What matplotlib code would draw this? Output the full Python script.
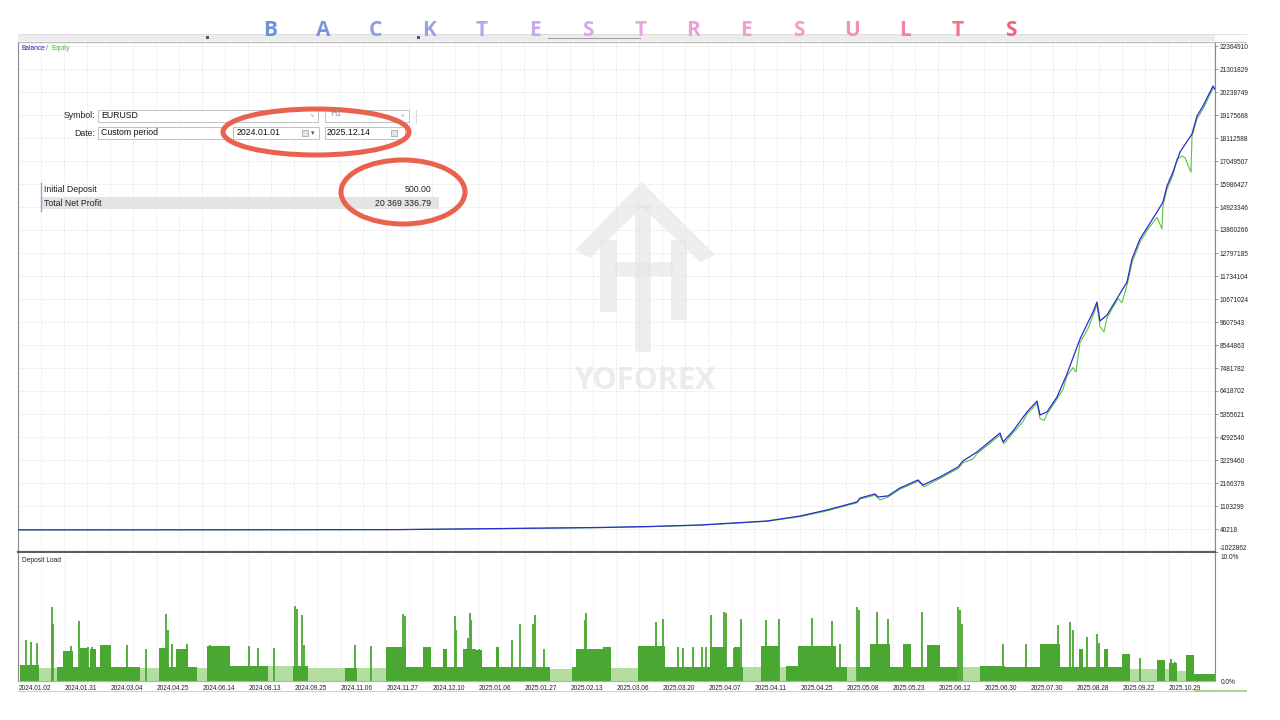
import matplotlib
matplotlib.use("Agg")
import matplotlib.pyplot as plt
from matplotlib.patches import Rectangle, Ellipse, Polygon
import numpy as np

# ---------------- data ----------------
# x axis = trade index (MT5 tester style, non-uniform dates)
bal_x = [0, 180, 380, 482, 582, 632, 682, 749, 782, 809, 839, 842, 857, 860, 870, 882, 900, 905,
         922, 940, 945, 959, 982, 985, 995, 1009, 1019, 1022, 1029, 1039, 1049, 1062, 1075, 1079,
         1082, 1089, 1109, 1114, 1122, 1139, 1145, 1149, 1155, 1162, 1174, 1179, 1185, 1195, 1197]
bal_y = [500, 3000, 12000, 60000, 110000, 155000, 225000, 410000, 640000, 920000, 1290000, 1470000,
         1660000, 1520000, 1570000, 1935000, 2305000, 2075000, 2440000, 2905000, 3185000, 3600000,
         4475000, 4060000, 4570000, 5450000, 5955000, 5310000, 5450000, 6140000, 7205000, 8820000,
         10070000, 10530000, 9655000, 9930000, 11455000, 12520000, 13445000, 14690000, 15155000,
         15895000, 16540000, 17465000, 18300000, 19130000, 19590000, 20515000, 20369837]

eq_x = [0, 180, 380, 482, 582, 632, 682, 749, 782, 809, 839, 842, 857, 862, 870, 882, 900, 906,
        922, 940, 945, 955, 959, 982, 986, 995, 1005, 1009, 1019, 1022, 1026, 1029, 1039, 1045,
        1049, 1055, 1058, 1062, 1070, 1075, 1079, 1082, 1086, 1089, 1100, 1104, 1109, 1114, 1122,
        1130, 1139, 1144, 1145, 1149, 1155, 1159, 1164, 1167, 1173, 1174, 1179, 1185, 1195, 1197]
eq_y = [500, 3000, 12000, 58000, 105000, 150000, 215000, 395000, 610000, 880000, 1250000, 1430000,
        1600000, 1380000, 1520000, 1880000, 2250000, 1990000, 2380000, 2830000, 3100000, 3280000,
        3520000, 4380000, 3980000, 4480000, 5000000, 5350000, 5850000, 5150000, 5050000, 5350000,
        6050000, 6500000, 7100000, 7500000, 7300000, 8650000, 9300000, 9900000, 10400000, 9400000,
        9150000, 9800000, 10700000, 10500000, 11300000, 12350000, 13300000, 13900000, 14450000,
        13907000, 15000000, 15750000, 16400000, 17142000, 17280000, 17200000, 16540000, 18200000,
        19000000, 19450000, 20400000, 20369837]

y_tick_values = [-1022862, 40218, 1103299, 2166379, 3229460, 4292540, 5355621, 6418702, 7481782,
                 8544863, 9607943, 10671024, 11734104, 12797185, 13860266, 14923346, 15986427,
                 17049507, 18112588, 19175668, 20238749, 21301829, 22364910]

date_labels = ["2024.01.02", "2024.01.31", "2024.03.04", "2024.04.25", "2024.06.14", "2024.08.13",
               "2024.09.25", "2024.11.06", "2024.11.27", "2024.12.10", "2025.01.06", "2025.01.27",
               "2025.02.13", "2025.03.06", "2025.03.20", "2025.04.07", "2025.04.11", "2025.04.25",
               "2025.05.08", "2025.05.23", "2025.06.12", "2025.06.30", "2025.07.30", "2025.08.28",
               "2025.09.22", "2025.10.29"]

# deposit load (%) : plateaus
load_seg_start = [2, 21, 39, 45, 55, 62, 70, 72, 78, 82, 93, 122, 141, 150, 158, 170, 179, 189, 212,
                  226, 250, 275, 290, 327, 339, 368, 388, 405, 413, 425, 429, 445, 458, 464, 478, 481,
                  532, 554, 558, 585, 593, 620, 647, 692, 708, 716, 722, 725, 743, 761, 768, 780, 818,
                  829, 839, 852, 872, 885, 893, 909, 922, 940, 962, 987, 1022, 1042, 1061, 1065, 1086,
                  1090, 1104, 1112, 1139, 1147, 1151, 1159, 1168, 1176]
load_seg_end = [21, 39, 45, 55, 62, 70, 72, 78, 82, 93, 122, 141, 150, 158, 170, 179, 189, 212, 226,
                250, 275, 290, 327, 339, 368, 388, 405, 413, 425, 429, 445, 458, 464, 478, 481, 532,
                554, 558, 585, 593, 620, 647, 692, 708, 716, 722, 725, 743, 761, 768, 780, 818, 829,
                839, 852, 872, 885, 893, 909, 922, 940, 962, 987, 1022, 1042, 1061, 1065, 1086, 1090,
                1104, 1112, 1139, 1147, 1151, 1159, 1168, 1176, 1198]
load_seg_level = [1.25, 1.0, 1.1, 2.4, 1.1, 2.6, 1.1, 2.5, 1.1, 2.85, 1.1, 1.05, 2.6, 1.1, 2.5, 1.1,
                  1.05, 2.75, 1.15, 1.15, 1.15, 1.15, 1.0, 1.05, 1.05, 2.65, 1.1, 2.65, 1.1, 2.55, 1.1,
                  2.55, 2.45, 1.1, 2.65, 1.1, 0.97, 1.1, 2.55, 2.65, 1.0, 2.75, 1.07, 2.65, 1.07, 2.65,
                  1.07, 1.07, 2.8, 1.07, 1.15, 2.8, 1.07, 1.07, 1.07, 2.95, 1.07, 2.95, 1.07, 2.85,
                  1.07, 1.07, 1.2, 1.07, 2.95, 1.07, 2.55, 1.07, 2.5, 1.07, 2.13, 0.93, 1.65, 0.93,
                  1.45, 0.8, 2.05, 0.59]
load_seg_light = [0, 1, 0, 0, 0, 0, 0, 0, 0, 0, 0, 1, 0, 0, 0, 0, 1, 0, 0, 0, 1, 0, 1, 0, 1, 0, 0, 0,
                  0, 0, 0, 0, 0, 0, 0, 0, 1, 0, 0, 0, 1, 0, 0, 0, 0, 0, 0, 1, 0, 1, 0, 0, 0, 1, 0, 0,
                  0, 0, 0, 0, 0, 1, 0, 0, 0, 0, 0, 0, 0, 0, 0, 1, 0, 1, 0, 1, 0, 0]

# deposit load (%) : spikes
load_spike_x = [8, 13, 19, 34, 35, 53, 61, 70, 74, 109, 128, 148, 150, 154, 169, 192, 206, 231, 240,
                256, 277, 279, 284, 286, 337, 353, 385, 387, 406, 427, 437, 438, 450, 452, 453, 461,
                479, 494, 502, 515, 517, 526, 567, 568, 590, 638, 645, 660, 665, 675, 684, 688, 693,
                706, 708, 716, 723, 748, 761, 794, 814, 822, 839, 841, 859, 870, 889, 904, 940, 942,
                944, 985, 1008, 1040, 1052, 1055, 1069, 1079, 1081, 1122, 1153, 1157, 1172]
load_spike_level = [3.2, 3.1, 3.0, 5.87, 4.5, 2.8, 4.7, 2.7, 2.7, 2.85, 2.5, 5.3, 4.0, 2.9, 2.9, 2.85,
                    2.75, 2.8, 2.6, 2.6, 5.9, 5.7, 5.2, 2.85, 2.85, 2.75, 5.3, 5.1, 2.7, 2.55, 5.1,
                    4.0, 3.4, 5.33, 4.8, 2.5, 2.65, 3.2, 4.5, 4.5, 5.2, 2.5, 4.8, 5.33, 2.7, 4.67,
                    4.93, 2.7, 2.6, 2.7, 2.7, 2.7, 5.2, 5.47, 5.4, 2.6, 4.9, 4.8, 4.93, 5.0, 4.75, 2.9,
                    5.87, 5.6, 5.47, 4.93, 2.9, 5.47, 5.87, 5.6, 4.5, 2.9, 2.9, 4.4, 4.67, 4.0, 3.47,
                    3.68, 3.0, 1.8, 1.7, 1.5, 2.05]

title_letters = ["B", "A", "C", "K", "T", "E", "S", "T", "R", "E", "S", "U", "L", "T", "S"]

# ---------------- styles ----------------
W, H = 1280, 720
fig = plt.figure(figsize=(12.8, 7.2), dpi=100)
fig.patch.set_facecolor("white")
FONT = "Liberation Sans"
GRID = "#d9d9d9"
SPINE = "#8a8a8a"
BLUE = "#2a2ad2"
GREEN = "#5cc43c"
DARKG = "#4aa832"
LIGHTG = "#b4dea0"

def fx(px):
    return px / W

def fy(py):
    return 1 - py / H

X0, X1 = 18, 1215
XMAX = 1197
# main chart
ax = fig.add_axes([fx(X0), fy(552), fx(X1 - X0), (552 - 42) / H])
ax.plot(eq_x, eq_y, color=GREEN, lw=0.8, zorder=3)
ax.plot(bal_x, bal_y, color=BLUE, lw=0.9, zorder=4)
ax.set_xlim(0, XMAX)
ax.set_ylim(-1022862, 22549794)
ax.yaxis.tick_right()
ax.set_yticks(y_tick_values)
ax.set_yticklabels([str(v) for v in y_tick_values], fontsize=4.7, family=FONT, color="#222222")
ax.get_yticklabels()[0].set_va("bottom")
ax.tick_params(axis="y", length=2, width=0.6, color=SPINE, pad=1.5)
ax.set_xticks(np.arange(0, XMAX, 23))
ax.tick_params(axis="x", length=0, labelbottom=False)
ax.grid(True, color=GRID, ls=(0, (1, 1.5)), lw=0.6, zorder=0)
for s in ["left", "right", "top"]:
    ax.spines[s].set_color(SPINE)
    ax.spines[s].set_linewidth(0.8)
ax.spines["bottom"].set_color("#5e5e5e")
ax.spines["bottom"].set_linewidth(1.6)

# deposit load panel
ax2 = fig.add_axes([fx(X0), fy(681), fx(X1 - X0), (681 - 553) / H])
for s0, s1, lv, lt in zip(load_seg_start, load_seg_end, load_seg_level, load_seg_light):
    ax2.bar(s0, lv, width=s1 - s0, align="edge", color=LIGHTG if lt else DARKG, lw=0, zorder=2)
ax2.vlines(load_spike_x, 0, load_spike_level, color=DARKG, lw=1.3, zorder=3)
ax2.set_xlim(0, XMAX)
ax2.set_ylim(0, 10.1)
ax2.yaxis.tick_right()
ax2.set_yticks([0, 10])
ax2.set_yticklabels(["0.0%", "10.0%"], fontsize=4.7, family=FONT, color="#222222")
ax2.get_yticklabels()[1].set_va("top")
ax2.tick_params(axis="y", length=0, pad=4)
ax2.set_xticks([1 + 46 * k for k in range(len(date_labels))])
ax2.set_xticklabels(date_labels, fontsize=4.7, family=FONT, color="#222222", ha="left")
ax2.set_xticks(np.arange(0, XMAX, 23), minor=True)
ax2.tick_params(axis="x", which="both", length=0, pad=3)
ax2.grid(True, axis="x", which="both", color="#e6e6e6", ls=(0, (1, 1.5)), lw=0.6, zorder=0)
for s in ["left", "right"]:
    ax2.spines[s].set_color(SPINE)
    ax2.spines[s].set_linewidth(0.8)
ax2.spines["top"].set_visible(False)
ax2.spines["bottom"].set_color("#b0b0b0")
ax2.spines["bottom"].set_linewidth(0.8)

# ---------------- overlay (pixel coordinates) ----------------
ov = fig.add_axes([0, 0, 1, 1], zorder=10)
ov.set_xlim(0, W)
ov.set_ylim(H, 0)
ov.axis("off")
ov.patch.set_alpha(0)

# toolbar strip
ov.add_patch(Rectangle((18, 34), 1197, 7, facecolor="#ececec", edgecolor="none"))
ov.plot([18, 1246], [41.5, 41.5], color="#bdbdbd", lw=0.8)
ov.plot([18, 1246], [34, 34], color="#dcdcdc", lw=0.6)
ov.plot([548, 640], [37.5, 37.5], color="#9a9a9a", lw=0.7)
for xb in [206, 417]:
    ov.add_patch(Rectangle((xb, 35.5), 3, 3, facecolor="#555555", edgecolor="none"))

# bottom scroll line
ov.plot([18, 1215], [691, 691], color="#cfcfcf", lw=0.8)
ov.plot([1195, 1246], [691, 691], color="#a8d890", lw=1.5)

# title
title_colors = ["#6d93d8", "#7997dc", "#8b9ee0", "#9ca2e3", "#b2a6e8", "#c6a8ec", "#d8a8ec",
                "#e4a8e4", "#eaa2d6", "#eea0cc", "#f29ec0", "#f490b0", "#f4809c", "#f4728a",
                "#f2627e"]
for i, (ch, c) in enumerate(zip(title_letters, title_colors)):
    ov.text(270 + i * 52.9, 30, ch, color=c, fontsize=15, family="Open Sans", weight="bold",
            ha="center", va="center")

# legend text
ov.text(22, 48, "Balance", color="#2020c0", fontsize=4.8, family=FONT, va="center")
ov.text(46.5, 48, "/", color="#666666", fontsize=4.8, family=FONT, va="center")
ov.text(51, 48, "Equity", color="#44c030", fontsize=4.8, family=FONT, va="center")
ov.text(22, 560, "Deposit Load", color="#222222", fontsize=4.8, family=FONT, va="center")

# watermark (very faint)
wm = "#e4e4e4"
wa = 0.6
ov.add_patch(Polygon([[575, 250], [642, 182], [715, 255], [700, 262], [642, 207], [590, 258]],
                     closed=True, facecolor=wm, edgecolor="none", alpha=wa))
ov.add_patch(Rectangle((600, 240), 17, 72, facecolor=wm, edgecolor="none", alpha=wa))
ov.add_patch(Rectangle((635, 205), 16, 147, facecolor=wm, edgecolor="none", alpha=wa))
ov.add_patch(Rectangle((671, 240), 16, 80, facecolor=wm, edgecolor="none", alpha=wa))
ov.add_patch(Rectangle((615, 262), 58, 14, facecolor=wm, edgecolor="none", alpha=wa))
ov.text(646, 381, "YOFOREX", color=wm, alpha=0.7, fontsize=22, family="Open Sans",
        weight="bold", ha="center", va="center")

# settings form
FS = 6.3
ov.text(95, 116, "Symbol:", fontsize=FS, family=FONT, ha="right", va="center", color="#222222")
ov.text(95, 133, "Date:", fontsize=FS, family=FONT, ha="right", va="center", color="#222222")
boxes = [(98, 110, 220, 12), (325, 110, 84, 12), (98, 127, 126, 12), (233, 127, 86, 12),
         (325, 127, 80, 12)]
for bx, by, bw, bh in boxes:
    ov.add_patch(Rectangle((bx, by), bw, bh, facecolor="white", edgecolor="#b8b8b8", lw=0.6))
ov.plot([416, 416], [110, 123], color="#d0d0d0", lw=0.6)
ov.text(101, 115.5, "EURUSD", fontsize=FS, family=FONT, va="center", color="#111111")
ov.text(101, 132.5, "Custom period", fontsize=FS, family=FONT, va="center", color="#111111")
ov.text(237, 132.5, "2024.01.01", fontsize=FS, family=FONT, va="center", color="#111111")
ov.text(327, 132.5, "2025.12.14", fontsize=FS, family=FONT, va="center", color="#111111")
ov.text(330, 113.5, "H1", fontsize=FS, family=FONT, va="center", color="#9a9a9a")
for cx in [313, 403]:
    ov.text(cx, 115.5, "v", fontsize=4.5, family=FONT, va="center", ha="center", color="#9a9a9a")
for ix in [302, 391]:
    ov.add_patch(Rectangle((ix, 129.5), 6, 6, facecolor="#e4e4e4", edgecolor="#9a9a9a", lw=0.5))
ov.text(313, 133, "\u25be", fontsize=5, family="DejaVu Sans", va="center", ha="center",
        color="#555555")

# result table
ov.add_patch(Rectangle((41, 197), 398, 12, facecolor="#e4e4e4", edgecolor="none"))
ov.plot([41, 41], [183, 211], color="#8ea4cc", lw=1.0)
ov.text(44, 190, "Initial Deposit", fontsize=FS, family=FONT, va="center", color="#222222")
ov.text(44, 203, "Total Net Profit", fontsize=FS, family=FONT, va="center", color="#222222")
ov.text(431, 190, "500.00", fontsize=FS, family=FONT, va="center", ha="right", color="#222222")
ov.text(431, 203, "20 369 336.79", fontsize=FS, family=FONT, va="center", ha="right",
        color="#222222")

# red highlight ellipses
RED = "#e8624e"
ov.add_patch(Ellipse((316, 132), 186, 46, facecolor="none", edgecolor=RED, lw=3.6))
ov.add_patch(Ellipse((403, 192), 124, 64, facecolor="none", edgecolor=RED, lw=3.6))

fig.savefig("out.png", dpi=100, facecolor="white")
